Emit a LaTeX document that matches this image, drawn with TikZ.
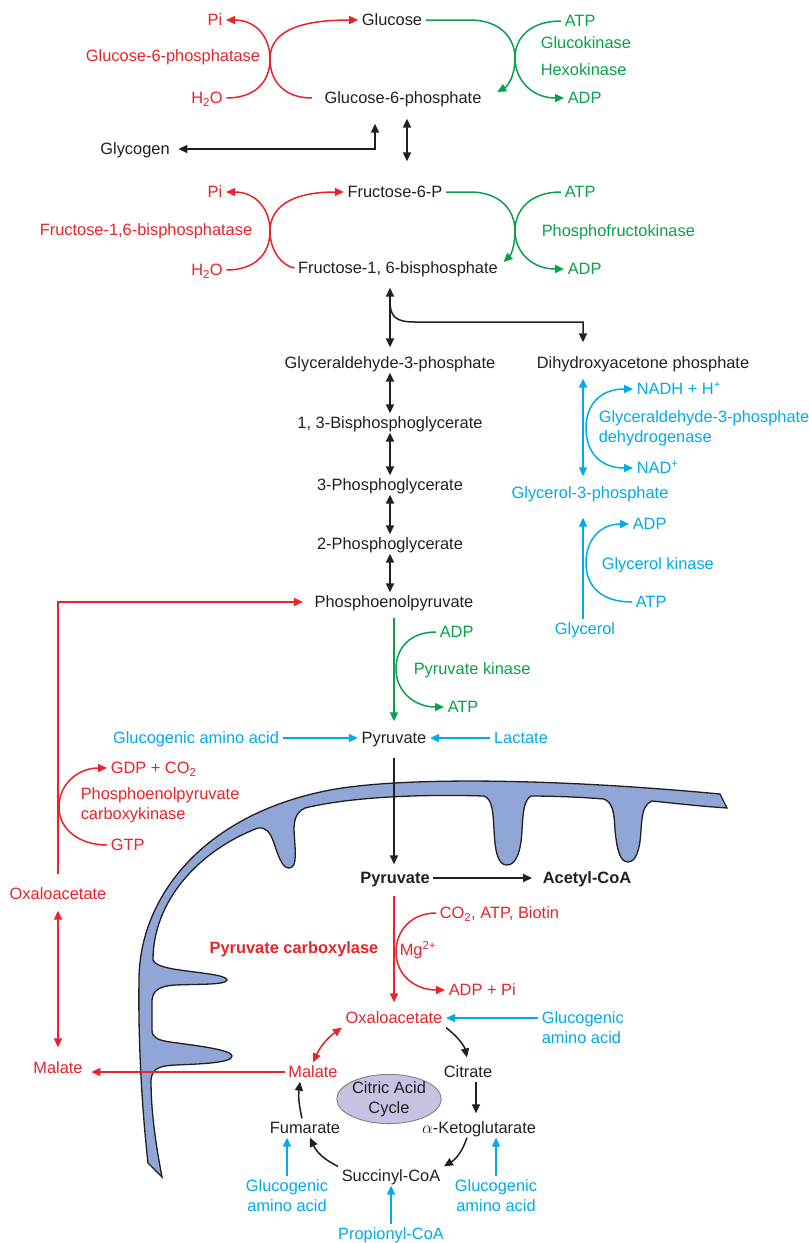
\documentclass[tikz,border=0pt]{standalone}
\usepackage{fontspec}
\setmainfont{Liberation Sans}
\usetikzlibrary{arrows.meta,shapes.geometric}

\definecolor{ink}{RGB}{35,31,32}
\definecolor{pathred}{RGB}{232,35,42}
\definecolor{pathgreen}{RGB}{10,160,75}
\definecolor{pathblue}{RGB}{0,170,235}
\definecolor{membrane}{RGB}{143,166,214}
\definecolor{cycfill}{RGB}{197,195,228}

\begin{document}
\begin{tikzpicture}[x=1pt,y=-1pt,color=ink,line width=1.5pt,
    >={Triangle[length=9pt,width=8pt]}]
    \tikzstyle{every node}=[inner sep=3pt, text height=11.8pt, text depth=0pt,
        font=\fontsize{16.4}{19.5}\selectfont]
    \tikzstyle{twoline}=[text height={}, text depth={}, align=left]
    \tikzstyle{boldtext}=[font=\fontsize{16.4}{19.5}\selectfont\bfseries]
    \tikzstyle{rtext}=[text=pathred]
    \tikzstyle{gtext}=[text=pathgreen]
    \tikzstyle{btext}=[text=pathblue]

    \fill[white] (0,0) rectangle (809,1243);
    \useasboundingbox (0,0) rectangle (809,1243);

    % mitochondrial membrane with cristae
    \draw[fill=membrane,line width=1.3pt] (148,1163) .. controls (142,1110) and (138,1040) .. (139,980)
        .. controls (139,900) and (200,815) .. (330,790)
        .. controls (400,777) and (550,778) .. (720,794) -- (727,808)
        .. controls (700,806) .. (652,801)
        .. controls (643,805) and (642,815) .. (641,830) .. controls (640,850) and (636,862) .. (628,862)
        .. controls (620,862) and (617,850) .. (615,830) .. controls (614,812) and (613,803) .. (604,799)
        .. controls (580,797) and (550,796) .. (531,796)
        .. controls (524,800) and (523,812) .. (522,830) .. controls (521,852) and (516,865) .. (507,865)
        .. controls (498,865) and (495,852) .. (494,830) .. controls (493,810) and (492,799) .. (484,796)
        .. controls (420,794) and (350,797) .. (305,808)
        .. controls (297,812) and (294,818) .. (294,830) .. controls (295,850) and (298,868) .. (289,868)
        .. controls (282,868) and (278,855) .. (274,843) .. controls (270,832) and (266,827) .. (258,828)
        .. controls (200,850) and (153,900) .. (153,960)
        .. controls (155,965) and (165,968) .. (180,970) .. controls (200,973) and (227,975) .. (227,980)
        .. controls (226,985) and (200,984) .. (175,985) .. controls (160,986) and (153,990) .. (152,1000)
        -- (152,1030) .. controls (152,1038) and (158,1040) .. (170,1042)
        .. controls (200,1046) and (232,1050) .. (232,1056) .. controls (232,1063) and (200,1064) .. (175,1065)
        .. controls (160,1066) and (152,1068) .. (151,1080)
        .. controls (151,1110) and (155,1140) .. (162,1177) -- cycle;

    % glucose / glucose-6-phosphate
    \node (glc) at (392,20) {Glucose};
    \node (g6p) at (403,98) {Glucose-6-phosphate};
    \node[rtext] (pi1) at (215,20) {Pi};
    \node[rtext] (g6pase) at (173,56) {Glucose-6-phosphatase};
    \node[rtext] (h2o1) at (207,98) {H\textsubscript{2}O};
    \node[gtext,anchor=west] (atp1) at (561,21) {ATP};
    \node[gtext,anchor=west] (gk) at (537,43) {Glucokinase};
    \node[gtext,anchor=west] (hk) at (537,70) {Hexokinase};
    \node[gtext,anchor=west] (adp1) at (564,98) {ADP};
    \node (glycogen) at (135,149) {Glycogen};

    % fructose step
    \node (f6p) at (395,192) {Fructose-6-P};
    \node (fbp) at (398,268) {Fructose-1, 6-bisphosphate};
    \node[rtext] (pi2) at (215,192) {Pi};
    \node[rtext] (fbpase) at (146,230) {Fructose-1,6-bisphosphatase};
    \node[rtext] (h2o2) at (207,270) {H\textsubscript{2}O};
    \node[gtext,anchor=west] (atp2) at (561,192) {ATP};
    \node[gtext,anchor=west] (pfk) at (538,231) {Phosphofructokinase};
    \node[gtext,anchor=west] (adp2) at (564,269) {ADP};

    % trioses down to PEP
    \node (gap) at (390,363) {Glyceraldehyde-3-phosphate};
    \node (dhap) at (643,363) {Dihydroxyacetone phosphate};
    \node (bpg) at (390,423) {1, 3-Bisphosphoglycerate};
    \node (pg3) at (390,485) {3-Phosphoglycerate};
    \node (pg2) at (390,544) {2-Phosphoglycerate};
    \node (pep) at (394,602) {Phosphoenolpyruvate};

    % glycerol entry
    \node[btext,anchor=west] (nadh) at (633,389) {NADH + H\textsuperscript{+}};
    \node[btext,twoline,anchor=north west] (gpdh) at (595,407) {Glyceraldehyde-3-phosphate\\dehydrogenase};
    \node[btext,anchor=west] (nad) at (633,468) {NAD\textsuperscript{+}};
    \node[btext] (g3p) at (590,493) {Glycerol-3-phosphate};
    \node[btext,anchor=west] (adp4) at (629,524) {ADP};
    \node[btext,anchor=west] (glyk) at (598,564) {Glycerol kinase};
    \node[btext,anchor=west] (atp4) at (632,602) {ATP};
    \node[btext] (glycerol) at (585,629) {Glycerol};

    % pyruvate kinase
    \node[gtext,anchor=west] (adp3) at (436,632) {ADP};
    \node[gtext,anchor=west] (pk) at (410,669) {Pyruvate kinase};
    \node[gtext,anchor=west] (atp3) at (444,707) {ATP};
    \node (pyr) at (394,738) {Pyruvate};
    \node[btext] (gaa1) at (196,738) {Glucogenic amino acid};
    \node[btext] (lac) at (521,738) {Lactate};

    % PEP carboxykinase
    \node[rtext] (oaa1) at (58,894) {Oxaloacetate};
    \node[rtext] (mal1) at (58,1068) {Malate};
    \node[rtext,anchor=west] (gdp) at (107,768) {GDP + CO\textsubscript{2}};
    \node[rtext,twoline,anchor=north west] (pepck) at (77,784) {Phosphoenolpyruvate\\carboxykinase};
    \node[rtext,anchor=west] (gtp) at (107,845) {GTP};

    % inside the mitochondrion
    \node[boldtext] (pyr2) at (395,878) {Pyruvate};
    \node[boldtext] (acoa) at (587,878) {Acetyl-CoA};
    \node[rtext,boldtext] (pc) at (294,948) {Pyruvate carboxylase};
    \node[rtext,anchor=west] (co2) at (436,913) {CO\textsubscript{2}, ATP, Biotin};
    \node[rtext,anchor=west] (mg) at (396,950) {Mg\textsuperscript{2+}};
    \node[rtext,anchor=west] (adppi) at (445,990) {ADP + Pi};

    % citric acid cycle
    \node[rtext] (oaa2) at (394,1018) {Oxaloacetate};
    \node[rtext] (mal2) at (313,1072) {Malate};
    \node (cit) at (468,1072) {Citrate};
    \node (akg) at (479,1128) {$\alpha$-Ketoglutarate};
    \node (suc) at (391,1176) {Succinyl-CoA};
    \node (fum) at (305,1128) {Fumarate};
    \node[ellipse,draw=gray,fill=cycfill,line width=0.9pt,twoline,align=center,
        minimum width=98pt,minimum height=49pt,inner sep=0pt] (cac) at (389,1099) {Citric Acid\\Cycle};
    \node[btext,twoline,anchor=north west] (gaa2) at (538,1008) {Glucogenic\\amino acid};
    \node[btext,twoline,align=center,anchor=north] (gaa3) at (287,1176) {Glucogenic\\amino acid};
    \node[btext,twoline,align=center,anchor=north] (gaa4) at (496,1176) {Glucogenic\\amino acid};
    \node[btext] (prop) at (391,1234) {Propionyl-CoA};

    \coordinate (split) at (390,301);
    \coordinate (side) at (583,0);

    % hexose reactions
    \draw[pathred,->] (h2o1.east) .. controls (255,98) and (270,82) .. (270,59)
        .. controls (270,36) and (255,20) .. (pi1.east);
    \draw[pathred,->] ([xshift=-9pt]g6p.west) .. controls (285,98) and (270,82) .. (270,59)
        .. controls (270,36) and (290,20) .. (glc.west);
    \draw[pathgreen,->] (glc.east) -- (470,20) .. controls (500,20) and (515,38) .. (515,58)
        .. controls (515,76) and (508,86) .. ([xshift=12pt,yshift=6pt]g6p.east);
    \draw[pathgreen,->] (atp1.west) .. controls (530,21) and (515,38) .. (515,58)
        .. controls (515,80) and (532,98) .. (adp1.west);
    \draw[<->,shorten <=5pt] (glycogen.east) -| ([xshift=-28pt,yshift=-16pt]g6p.south);
    \draw[<->,shorten <=11pt,shorten >=21pt] ([xshift=4pt]g6p.south) -- ([xshift=12pt]f6p.north);

    \draw[pathred,->] (h2o2.east) .. controls (255,270) and (270,254) .. (270,231)
        .. controls (270,208) and (255,192) .. (pi2.east);
    \draw[pathred,->] (fbp.west) .. controls (283,266) and (270,252) .. (270,231)
        .. controls (270,208) and (290,192) .. (f6p.west);
    \draw[pathgreen,->] (f6p.east) -- (470,192) .. controls (500,192) and (515,210) .. (515,231)
        .. controls (515,248) and (510,256) .. ([xshift=2pt,yshift=6pt]fbp.east);
    \draw[pathgreen,->] (atp2.west) .. controls (530,192) and (515,210) .. (515,231)
        .. controls (515,252) and (532,269) .. (adp2.west);

    % triose chain
    \draw[<->,shorten <=10pt,shorten >=6pt] (gap.north |- fbp.south) -- (gap.north);
    \draw[->,shorten >=11pt] (split) .. controls (390,317) and (396,322) .. (415,322) -| (side |- dhap.north);
    \draw[<->] (gap.south) -- (bpg.north);
    \draw[<->] (bpg.south) -- (pg3.north);
    \draw[<->] (pg3.south) -- (pg2.north);
    \draw[<->] (pg2.south) -- (pg2.south |- pep.north);

    \draw[pathblue,<->,shorten <=6pt,shorten >=7pt] (side |- dhap.south) -- (side |- g3p.north);
    \draw[pathblue,<->] (nadh.west) .. controls (600,389) and (586,405) .. (586,428)
        .. controls (586,452) and (600,468) .. (nad.west);
    \draw[pathblue,->,shorten >=15pt] (side |- glycerol.north) -- (side |- g3p.south);
    \draw[pathblue,->] (atp4.west) .. controls (600,602) and (586,585) .. (586,563)
        .. controls (586,540) and (600,524) .. (adp4.west);

    % PEP to pyruvate
    \draw[pathgreen,->,shorten <=6pt,shorten >=7pt] (pep.south) -- (pyr.north);
    \draw[pathgreen,->] (adp3.west) .. controls (410,632) and (396,648) .. (396,669)
        .. controls (396,692) and (415,707) .. (atp3.west);
    \draw[pathblue,->] (gaa1) -- (pyr);
    \draw[pathblue,->] (lac) -- (pyr);

    % mitochondrion
    \draw[->,shorten <=10pt,shorten >=4pt] (pyr.south) -- (pyr.south |- pyr2.north);
    \draw[->,shorten >=7pt] (pyr2) -- (acoa);
    \draw[pathred,->,shorten <=8pt,shorten >=6pt] (pyr.south |- pyr2.south) -- (pyr.south |- oaa2.north);
    \draw[pathred,->] (co2.west) .. controls (412,913) and (396,930) .. (396,952)
        .. controls (396,975) and (415,990) .. (adppi.west);

    % oxaloacetate back to PEP
    \draw[pathred,->,shorten <=10pt,shorten >=8pt] (oaa1.north) |- (pep.west);
    \draw[pathred,<->,shorten <=7pt,shorten >=11pt] (oaa1.south) -- (mal1.north);
    \draw[pathred,->] (gtp.west) .. controls (80,845) and (59,830) .. (59,807)
        .. controls (59,784) and (78,768) .. (gdp.west);
    \draw[pathred,->,shorten >=5pt] (mal2.west) -- (mal2.west -| mal1.east);

    % cycle
    \draw[pathblue,->] (gaa2.west |- oaa2) -- (oaa2);
    \draw[pathred,<->] (mal2.north) to[bend left=15] (oaa2.south west);
    \draw[->,shorten >=5pt] (oaa2.south east) to[bend left=20] (cit.north);
    \draw[->,shorten >=5pt] ([xshift=8pt]cit.south) -- ([xshift=8pt]cit.south |- akg.north);
    \draw[->] ([xshift=-12pt]akg.south) to[bend left=20] (suc.north east);
    \draw[->] (suc.north west) to[bend left=20] ([xshift=5pt]fum.south);
    \draw[->] ([xshift=-3pt]fum.north) to[bend left=10] ([xshift=-13pt]mal2.south);
    \draw[pathblue,->] (gaa3.north) -- (gaa3.north |- fum.south);
    \draw[pathblue,->] (gaa4.north) -- (gaa4.north |- akg.south);
    \draw[pathblue,->] (prop) -- (suc);
\end{tikzpicture}
\end{document}
